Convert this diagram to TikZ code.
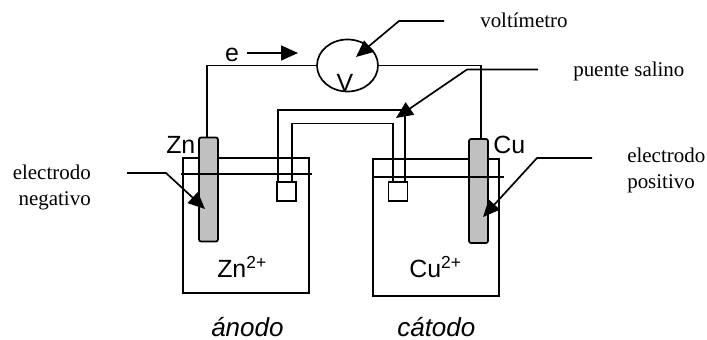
\documentclass[tikz,border=0pt]{standalone}
\usepackage{fontspec}
\setmainfont{Liberation Serif}
\setsansfont{Liberation Sans}
\usetikzlibrary{arrows.meta,shapes.geometric}
\definecolor{rodgray}{RGB}{192,192,192}
\tikzset{
  wire/.style={black,line width=1.2pt},
  leader/.style={wire,-{Triangle[length=12pt,width=10.5pt]}},
  rod/.style={draw,wire,fill=rodgray,rounded corners=1.5pt,minimum width=0.475cm,minimum height=2.6cm,inner sep=0pt},
  saltbox/.style={draw,wire,fill=white,minimum size=0.475cm,inner sep=0pt},
  serifnote/.style={font=\fontsize{14.9}{16}\selectfont\rmfamily,inner sep=0pt},
  sanslabel/.style={font=\fontsize{17.7}{20}\selectfont\sffamily,inner sep=0pt},
  sidelabel/.style={font=\fontsize{18.5}{20}\selectfont\sffamily\itshape,inner sep=0pt},
}
\begin{document}
\begin{tikzpicture}[x=0.025cm,y=-0.025cm]

\useasboundingbox (0,0) rectangle (707,340);

% beakers
\draw[wire] (183,158) rectangle (309,293);
\draw[wire] (373,159) rectangle (499,296);

% voltmeter and outer circuit
\node[draw,wire,ellipse,minimum width=1.525cm,minimum height=1.3cm,inner sep=0pt](volt) at (347.5,65.5) {};
\node[sanslabel,anchor=base](voltV) at (345,92) {V};
\coordinate(wireZn) at (207,138);
\coordinate(wireCu) at (481,140);
\draw[wire] (volt.west) -| (wireZn);
\draw[wire] (volt.east) -| (wireCu);

% electrodes
\node[rod](rodZn) at (208.5,189.5) {};
\node[rod](rodCu) at (478.5,191) {};

% solution level
\coordinate(levelZnL) at (181,174);
\coordinate(levelZnR) at (312,174);
\coordinate(levelCuL) at (373,177);
\coordinate(levelCuR) at (504,177);
\draw[wire] (levelZnL) -- (levelZnR);
\draw[wire] (levelCuL) -- (levelCuR);

% salt bridge
\node[saltbox](boxZn) at (286.5,191.5) {};
\node[saltbox](boxCu) at (398,191.5) {};
\coordinate(outerL) at (278,182);
\coordinate(outerTL) at (278,110);
\coordinate(outerTR) at (405,110);
\coordinate(outerR) at (405,182);
\coordinate(innerL) at (292,182);
\coordinate(innerTL) at (292,123.5);
\coordinate(innerTR) at (393,123.5);
\coordinate(innerR) at (393,182);
\draw[wire] (outerL) -- (outerTL) -- (outerTR) -- (outerR);
\draw[wire] (innerL) -- (innerTL) -- (innerTR) -- (innerR);

% electron arrow
\node[sanslabel,anchor=base](eLabel) at (232,62) {e};
\coordinate(eStart) at (247,53);
\coordinate(eEnd) at (298,53);
\draw[leader] (eStart) -- (eEnd);

% leaders
\coordinate(voltStart) at (444,21);
\coordinate(voltKnee) at (399,21);
\coordinate(voltTip) at (356,57);
\draw[leader] (voltStart) -- (voltKnee) -- (voltTip);
\coordinate(bridgeStart) at (538,69.5);
\coordinate(bridgeKnee) at (467,69.5);
\coordinate(bridgeTip) at (396,118);
\draw[leader] (bridgeStart) -- (bridgeKnee) -- (bridgeTip);
\coordinate(negStart) at (127,173);
\coordinate(negKnee) at (166,173);
\coordinate(negTip) at (205,209);
\draw[leader] (negStart) -- (negKnee) -- (negTip);
\coordinate(posStart) at (592,158);
\coordinate(posKnee) at (537,158);
\coordinate(posTip) at (483,217);
\draw[leader] (posStart) -- (posKnee) -- (posTip);

% labels
\node[sanslabel,anchor=base west](labelZn) at (166,154) {Zn};
\node[sanslabel,anchor=base west](labelCu) at (493,154) {Cu};
\node[sanslabel,anchor=base west](ionZn) at (217,277) {Zn\textsuperscript{2+}};
\node[sanslabel,anchor=base west](ionCu) at (409,277) {Cu\textsuperscript{2+}};
\node[sidelabel,anchor=base west](anodo) at (211,336) {ánodo};
\node[sidelabel,anchor=base west](catodo) at (397,336) {cátodo};
\node[serifnote,anchor=base west](noteVolt) at (480,28) {voltímetro};
\node[serifnote,anchor=base west](notePuente) at (573,77) {puente salino};
\node[serifnote,anchor=base east](noteNegA) at (91,180) {electrodo};
\node[serifnote,anchor=base east](noteNegB) at (91,205) {negativo};
\node[serifnote,anchor=base west](notePosA) at (627,163) {electrodo};
\node[serifnote,anchor=base west](notePosB) at (627,189) {positivo};

\end{tikzpicture}
\end{document}
